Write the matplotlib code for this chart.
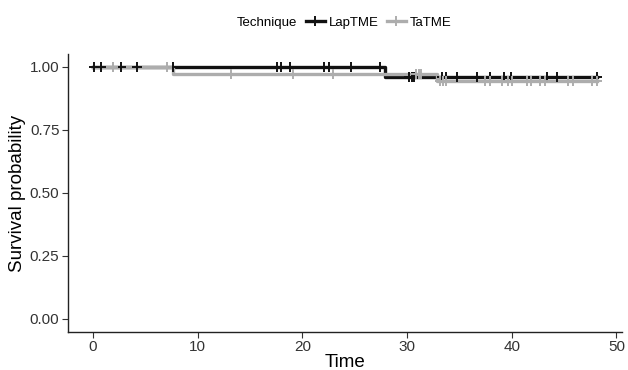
import numpy as np
import matplotlib.pyplot as plt
from matplotlib.lines import Line2D

plt.rcParams['font.family'] = ['Liberation Sans', 'DejaVu Sans']

# LapTME curve (step changes) and censoring times
lap_step_t = [0, 27.9, 48.1]
lap_step_s = [1.0, 0.962, 0.962]
lap_cens_t = [0.1, 0.8, 2.7, 4.2, 7.6, 17.6, 18.0, 18.8, 22.1, 22.5, 24.6, 27.4,
              30.2, 30.5, 30.7, 33.3, 33.7, 34.8, 36.7, 37.9, 39.3, 39.9,
              43.4, 44.3, 48.1]

# TaTME curve and censoring times
ta_step_t = [0, 7.6, 32.9, 48.1]
ta_step_s = [1.0, 0.972, 0.944, 0.944]
ta_cens_t = [1.9, 7.1, 13.2, 19.1, 22.9, 30.9, 31.1, 31.3, 33.1, 33.4, 33.7,
             37.4, 37.9, 39.1, 39.6, 40.0, 41.5, 41.8, 42.7, 43.2, 45.4, 45.8,
             47.7, 48.1]

groups = ["LapTME", "TaTME"]
colors = ["#111111", "#ADADAD"]


def surv_at(step_t, step_s, t):
    idx = np.searchsorted(step_t, t, side='right') - 1
    return np.array(step_s)[idx]


fig = plt.figure(figsize=(6.28, 3.70), dpi=100)
ax = fig.add_axes([0.108, 0.104, 0.882, 0.749])

curves = [(lap_step_t, lap_step_s, lap_cens_t), (ta_step_t, ta_step_s, ta_cens_t)]
for (st, ss, ct), col in zip(curves, colors):
    ax.step(st, ss, where='post', color=col, lw=2.4, zorder=2)
for (st, ss, ct), col in zip(curves, colors):
    ax.plot(ct, surv_at(st, ss, ct), ls='none', marker='+', ms=7.5, mew=1.4,
            color=col, zorder=3)

ax.set_xlim(-2.4, 50.5)
ax.set_ylim(-0.05, 1.05)
ax.set_xticks([0, 10, 20, 30, 40, 50])
ax.set_yticks([0, 0.25, 0.5, 0.75, 1.0])
ax.set_yticklabels(["0.00", "0.25", "0.50", "0.75", "1.00"])
ax.tick_params(labelsize=11, colors='#333333', length=4, width=0.8,
               labelcolor='#333333', pad=2)
for side in ['top', 'right']:
    ax.spines[side].set_visible(False)
for side in ['left', 'bottom']:
    ax.spines[side].set_linewidth(1.0)
    ax.spines[side].set_color('#222222')

ax.set_xlabel("Time", fontsize=13.5, labelpad=0)
ax.set_ylabel("Survival probability", fontsize=13.5, labelpad=3)

fig.text(0.377, 0.938, "Technique", fontsize=9.5, va='center', ha='left')
handles = [Line2D([], [], color=c, lw=2.4, marker='+', ms=7.5, mew=1.4)
           for c in colors]
fig.legend(handles, groups, loc='center left', bbox_to_anchor=(0.477, 0.938),
           ncol=2, frameon=False, fontsize=9.5, handlelength=1.4,
           handletextpad=0.35, columnspacing=0.6, borderpad=0)

fig.savefig("out.png", dpi=100)
